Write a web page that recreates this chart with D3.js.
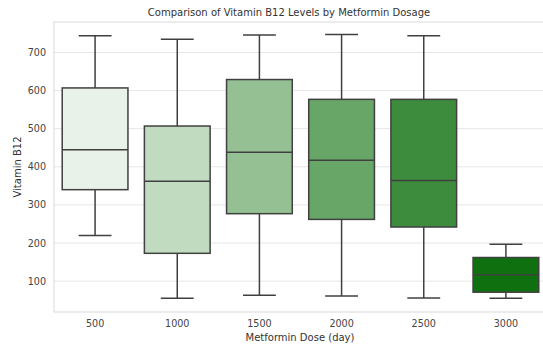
<!DOCTYPE html>
<html>
<head>
<meta charset="utf-8">
<script src="https://cdn.jsdelivr.net/npm/d3@7"></script>
<style>
  body { margin: 0; background: #fff; }
  text { font-family: "DejaVu Sans", sans-serif; }
</style>
</head>
<body>
<div id="chart"></div>
<script>
// Box stats (Vitamin B12 by metformin dose)
var doses = ['500', '1000', '1500', '2000', '2500', '3000'];
var whiskerLow = [220, 55, 63, 61, 56, 55];
var q1 = [340, 173, 277, 262, 242, 71];
var median = [445, 362, 438, 417, 364, 117];
var q3 = [607, 507, 629, 577, 577, 162];
var whiskerHigh = [744, 735, 746, 747, 744, 197];
var boxColors = ['#e9f2e8', '#c1dbc1', '#94c094', '#68a668', '#3d8b3d', '#0e700e'];
var yTicks = [100, 200, 300, 400, 500, 600, 700];

var boxes = doses.map(function(d, i) {
    return {dose: d, lo: whiskerLow[i], q1: q1[i], med: median[i], q3: q3[i], hi: whiskerHigh[i], color: boxColors[i]};
});

const width = 543;
const height = 345;
var margin = {top: 22, right: -4, bottom: 33, left: 54};

var svg = d3.select('#chart').append('svg')
    .attr('width', width)
    .attr('height', height);

var x = d3.scaleBand()
    .domain(doses)
    .range([margin.left, width - margin.right])
    .paddingInner(0)
    .paddingOuter(0);

var y = d3.scaleLinear()
    .domain([19, 780])
    .range([height - margin.bottom, margin.top]);

// grid lines
svg.append('g')
    .selectAll('line')
    .data(yTicks)
    .enter()
    .append('line')
    .attr('x1', margin.left)
    .attr('x2', width)
    .attr('y1', d => y(d))
    .attr('y2', d => y(d))
    .attr('stroke', '#e6e6e6')
    .attr('stroke-width', 1);

// plot frame
svg.append('rect')
    .attr('x', margin.left)
    .attr('y', margin.top)
    .attr('width', width - margin.right - margin.left)
    .attr('height', height - margin.bottom - margin.top)
    .attr('fill', 'none')
    .attr('stroke', '#d9d9d9')
    .attr('stroke-width', 1);

// axes (labels only, seaborn whitegrid has no tick marks)
var yAxis = svg.append('g')
    .attr('transform', `translate(${margin.left},0)`)
    .call(d3.axisLeft(y).tickValues(yTicks).tickSize(0).tickPadding(8));
yAxis.select('.domain').remove();
yAxis.selectAll('text')
    .style('font-size', '9.6px')
    .attr('fill', '#444');

var xAxis = svg.append('g')
    .attr('transform', `translate(0,${height - margin.bottom})`)
    .call(d3.axisBottom(x).tickSize(0).tickPadding(8));
xAxis.select('.domain').remove();
xAxis.selectAll('text')
    .style('font-size', '9.6px')
    .attr('fill', '#444');

var boxW = x.bandwidth() * 0.8;
var capW = boxW / 2;
var edge = '#404040';

var g = svg.append('g')
    .selectAll('g')
    .data(boxes)
    .enter()
    .append('g')
    .attr('transform', d => `translate(${x(d.dose) + x.bandwidth() / 2},0)`);

// whiskers
g.append('line')
    .attr('x1', 0).attr('x2', 0)
    .attr('y1', d => y(d.q3)).attr('y2', d => y(d.hi))
    .attr('stroke', edge).attr('stroke-width', 1.5);
g.append('line')
    .attr('x1', 0).attr('x2', 0)
    .attr('y1', d => y(d.q1)).attr('y2', d => y(d.lo))
    .attr('stroke', edge).attr('stroke-width', 1.5);

// caps
g.append('line')
    .attr('x1', -capW / 2).attr('x2', capW / 2)
    .attr('y1', d => y(d.hi)).attr('y2', d => y(d.hi))
    .attr('stroke', edge).attr('stroke-width', 1.5);
g.append('line')
    .attr('x1', -capW / 2).attr('x2', capW / 2)
    .attr('y1', d => y(d.lo)).attr('y2', d => y(d.lo))
    .attr('stroke', edge).attr('stroke-width', 1.5);

// box
g.append('rect')
    .attr('x', -boxW / 2)
    .attr('width', boxW)
    .attr('y', d => y(d.q3))
    .attr('height', d => y(d.q1) - y(d.q3))
    .attr('fill', d => d.color)
    .attr('stroke', edge)
    .attr('stroke-width', 1.5);

// median
g.append('line')
    .attr('x1', -boxW / 2).attr('x2', boxW / 2)
    .attr('y1', d => y(d.med)).attr('y2', d => y(d.med))
    .attr('stroke', edge).attr('stroke-width', 1.5);

// title and axis labels
svg.append('text')
    .attr('x', 289)
    .attr('y', 16)
    .attr('text-anchor', 'middle')
    .style('font-size', '10px')
    .attr('fill', '#333')
    .text('Comparison of Vitamin B12 Levels by Metformin Dosage');

svg.append('text')
    .attr('x', 300)
    .attr('y', 341)
    .attr('text-anchor', 'middle')
    .style('font-size', '10px')
    .attr('fill', '#333')
    .text('Metformin Dose (day)');

svg.append('text')
    .attr('transform', `translate(21,${(margin.top + height - margin.bottom) / 2}) rotate(-90)`)
    .attr('text-anchor', 'middle')
    .style('font-size', '10px')
    .attr('fill', '#333')
    .text('Vitamin B12');
</script>
</body>
</html>
